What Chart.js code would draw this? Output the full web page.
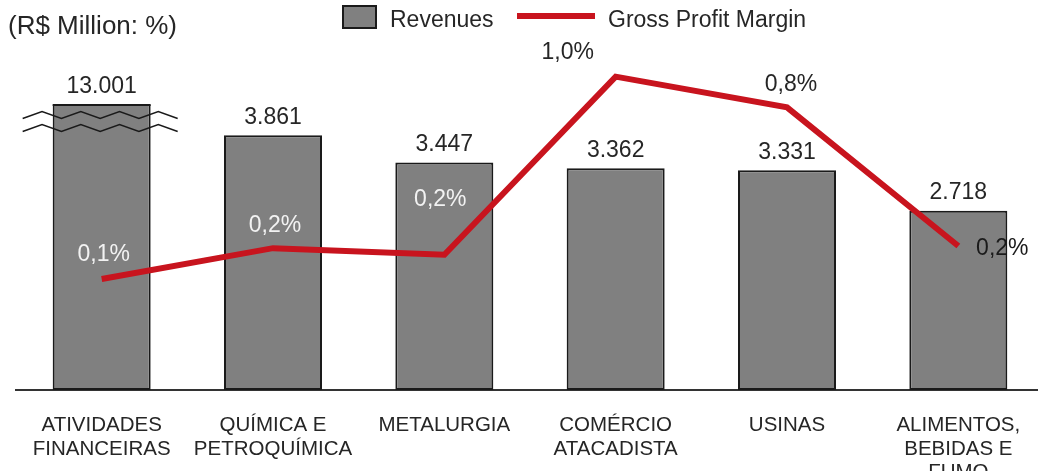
<!DOCTYPE html>
<html lang="pt-BR">
<head>
<meta charset="UTF-8">
<title>Revenues and Gross Profit Margin</title>
<script src="https://cdn.jsdelivr.net/npm/chart.js"></script>
<style>
  body {
    margin: 0;
    overflow: hidden;
    background: #fff;
    font-family: "Liberation Sans", Arial, sans-serif;
    color: #262626;
  }
  #wrap {
    position: relative;
    width: 1046px;   /* a bit wider than the window, the last column runs off the edge */
    height: 471px;
  }
  .txt { position: absolute; white-space: nowrap; }
  #unit { left: 8px; top: 12px; font-size: 26px; line-height: 26px; }
  .leg-text { top: 8px; font-size: 23px; line-height: 23px; }
  #leg-box {
    position: absolute; left: 342px; top: 5px; width: 35px; height: 24px;
    box-sizing: border-box; background: #808080; border: 2px solid #1a1a1a;
  }
  #leg-line {
    position: absolute; left: 517px; top: 13px; width: 78px; height: 6px;
    background: #c8141e;
  }
</style>
</head>
<body>
<div id="wrap">
  <div id="unit" class="txt">(R$ Million: %)</div>
  <div id="leg-box"></div>
  <div class="txt leg-text" style="left:390px">Revenues</div>
  <div id="leg-line"></div>
  <div class="txt leg-text" style="left:608px">Gross Profit Margin</div>
  <canvas id="chart"></canvas>
</div>

<script>
  // dados
  const categories = [
    ['ATIVIDADES', 'FINANCEIRAS'],
    ['QUÍMICA E', 'PETROQUÍMICA'],
    ['METALURGIA'],
    ['COMÉRCIO', 'ATACADISTA'],
    ['USINAS'],
    ['ALIMENTOS,', 'BEBIDAS E', 'FUMO']
  ];
  const revenues = [13001, 3861, 3447, 3362, 3331, 2718];      // R$ milhões
  const grossMargin = [0.06, 0.20, 0.17, 0.98, 0.84, 0.21];    // %

  // eixo de receitas cortado (o primeiro valor fica quebrado)
  const revenueAxisMax = 4320;
  const marginAxisMin = -0.445;
  const marginAxisMax = 0.851;

  // posição dos rótulos de margem em relação ao ponto
  const marginLabelOffsets = [[2, -24], [2, -23], [-4, -55], [-48, -24], [4, -23], [44, 3]];
  const marginLabelColors = ['#f2f2f2', '#f2f2f2', '#f2f2f2', '#262626', '#262626', '#1a1a1a'];

  const FONT = '"Liberation Sans", Arial, sans-serif';

  function fmtThousands(v) {
    return String(v).replace(/\B(?=(\d{3})+(?!\d))/g, '.');
  }
  function fmtPct(v) {
    return v.toFixed(1).replace('.', ',') + '%';
  }

  // rótulos de valores + marca de quebra na barra cortada
  const labelPlugin = {
    id: 'valueLabels',
    afterDatasetsDraw(chart) {
      const ctx = chart.ctx;
      const top = chart.chartArea.top;
      const bars = chart.getDatasetMeta(1).data;
      const pts = chart.getDatasetMeta(0).data;
      ctx.save();

      bars.forEach((bar, i) => {
        const y = Math.max(bar.y, top);
        if (bar.y < top) {
          const half = bar.width / 2;
          ctx.strokeStyle = '#1a1a1a';
          ctx.lineWidth = 2;
          ctx.beginPath();
          ctx.moveTo(bar.x - half, top);
          ctx.lineTo(bar.x + half, top);
          ctx.stroke();
          // duas linhas onduladas
          ctx.lineWidth = 1.5;
          [10, 23].forEach(dy => {
            const x0 = bar.x - half - 30;
            const x1 = bar.x + half + 27;
            const steps = 8;
            ctx.beginPath();
            for (let s = 0; s <= steps; s++) {
              const x = x0 + (x1 - x0) * s / steps;
              const yy = top + dy + (s % 2 === 0 ? 3.5 : -3.5);
              if (s === 0) ctx.moveTo(x, yy); else ctx.lineTo(x, yy);
            }
            ctx.stroke();
          });
        }
        ctx.font = '23px ' + FONT;
        ctx.textAlign = 'center';
        ctx.textBaseline = 'middle';
        ctx.fillStyle = '#262626';
        ctx.fillText(fmtThousands(revenues[i]), bar.x, y - 18);
      });

      pts.forEach((pt, i) => {
        const [dx, dy] = marginLabelOffsets[i];
        ctx.font = '23px ' + FONT;
        ctx.textAlign = 'center';
        ctx.textBaseline = 'middle';
        ctx.fillStyle = marginLabelColors[i];
        ctx.fillText(fmtPct(grossMargin[i]), pt.x + dx, pt.y + dy);
      });
      ctx.restore();
    }
  };

  const ctx = document.getElementById('chart').getContext('2d');
  new Chart(ctx, {
    data: {
      labels: categories,
      datasets: [
        {
          type: 'line',
          label: 'Gross Profit Margin',
          data: grossMargin,
          yAxisID: 'y1',
          borderColor: '#c8141e',
          borderWidth: 6,
          pointRadius: 0,
          fill: false,
          clip: false,
          order: 0
        },
        {
          type: 'bar',
          label: 'Revenues',
          data: revenues,
          yAxisID: 'y',
          backgroundColor: '#808080',
          borderColor: '#1a1a1a',
          borderWidth: 2,
          borderSkipped: false,
          categoryPercentage: 1,
          barPercentage: 0.572,
          clip: 0,
          order: 1
        }
      ]
    },
    options: {
      responsive: true,
      maintainAspectRatio: false,
      animation: false,
      events: [],
      layout: { padding: { left: 16, right: 2, top: 105, bottom: 0 } },
      plugins: {
        legend: { display: false },
        tooltip: { enabled: false }
      },
      scales: {
        x: {
          grid: { display: false },
          border: { display: true, color: '#333', width: 2 },
          ticks: {
            color: '#262626',
            padding: 16,
            maxRotation: 0,
            autoSkip: false,
            font: { family: FONT, size: 20.5, lineHeight: '23.5px' }
          },
          afterFit(scale) { scale.height = 81; }
        },
        y: {
          display: false,
          min: 0,
          max: revenueAxisMax
        },
        y1: {
          display: false,
          min: marginAxisMin,
          max: marginAxisMax
        }
      }
    },
    plugins: [labelPlugin]
  });
</script>
</body>
</html>
